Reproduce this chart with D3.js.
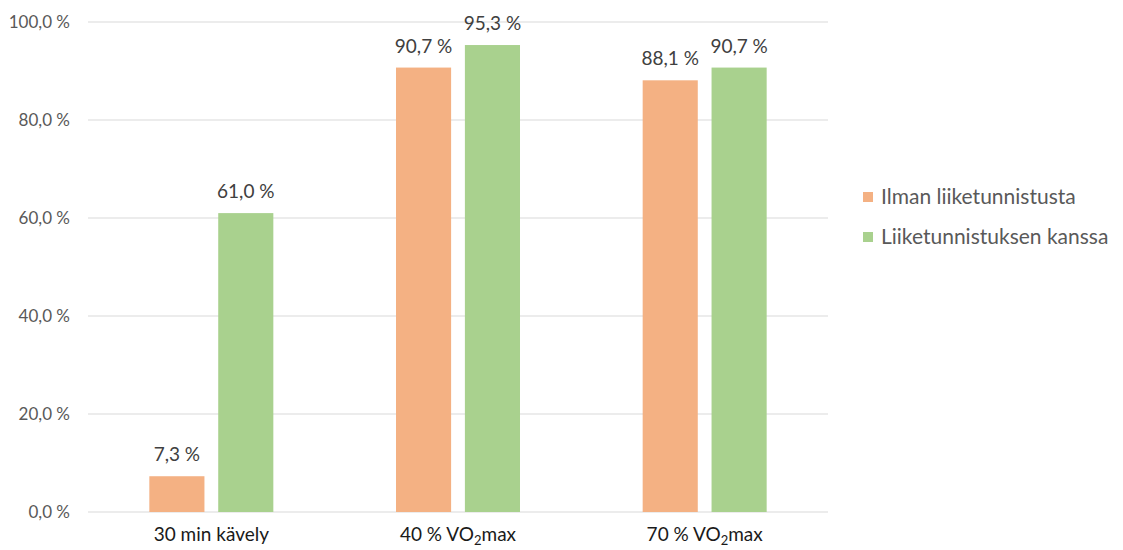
<!DOCTYPE html>
<html>
<head>
<meta charset="utf-8">
<script src="https://cdn.jsdelivr.net/npm/d3@7"></script>
<style>
  body { margin: 0; background: #fff; }
  svg text { font-family: Lato, "Open Sans", sans-serif; }
</style>
</head>
<body>
<div id="chart"></div>
<script>
// data
var categories = ["30 min kävely", "40 % VO2max", "70 % VO2max"];
var seriesNames = ["Ilman liiketunnistusta", "Liiketunnistuksen kanssa"];
var ilman = [7.3, 90.7, 88.1];
var kanssa = [61.0, 95.3, 90.7];
var yTicks = [0, 20, 40, 60, 80, 100];
var colors = ["#F4B183", "#A9D18E"];

var W = 1123, H = 550;
var margin = { top: 22, right: 295, bottom: 38, left: 88 };
var width = W - margin.left - margin.right;
var height = H - margin.top - margin.bottom;

var svg = d3.select("#chart")
  .append("svg")
  .attr("width", W)
  .attr("height", H)
  .append("g")
  .attr("transform", "translate(" + margin.left + "," + margin.top + ")");

var x0 = d3.scaleBand().domain(categories).range([0, width]).padding(0);
var groupW = 124;
var x1 = d3.scaleBand().domain(seriesNames)
  .range([(x0.bandwidth() - groupW) / 2, (x0.bandwidth() + groupW) / 2])
  .paddingInner(0.2).paddingOuter(0);
var y = d3.scaleLinear().domain([0, 100]).range([height, 0]);

var fmt = function (v) { return d3.format(".1f")(v).replace(".", ",") + " %"; };

// gridlines
svg.selectAll("line.grid")
  .data(yTicks)
  .enter()
  .append("line")
  .attr("class", "grid")
  .attr("x1", 0)
  .attr("x2", width)
  .attr("y1", (d) => y(d))
  .attr("y2", (d) => y(d))
  .attr("stroke", "#d9d9d9")
  .attr("stroke-width", 1);

// y labels
svg.selectAll("text.ytick")
  .data(yTicks)
  .enter()
  .append("text")
  .attr("class", "ytick")
  .attr("x", -18)
  .attr("y", (d) => y(d))
  .attr("dy", "0.35em")
  .attr("text-anchor", "end")
  .attr("fill", "#595959")
  .style("font-size", "17px")
  .text(fmt);

// bars
var rows = [];
for (var i = 0; i < categories.length; i++) {
  rows.push({ cat: categories[i], s: seriesNames[0], v: ilman[i], c: colors[0] });
  rows.push({ cat: categories[i], s: seriesNames[1], v: kanssa[i], c: colors[1] });
}

svg.selectAll("rect.bar")
  .data(rows)
  .enter()
  .append("rect")
  .attr("class", "bar")
  .attr("x", (d) => x0(d.cat) + x1(d.s))
  .attr("width", x1.bandwidth())
  .attr("y", (d) => y(d.v))
  .attr("height", (d) => height - y(d.v))
  .attr("fill", (d) => d.c);

// value labels
svg.selectAll("text.val")
  .data(rows)
  .enter()
  .append("text")
  .attr("class", "val")
  .attr("x", (d) => x0(d.cat) + x1(d.s) + x1.bandwidth() / 2)
  .attr("y", (d) => y(d.v) - 15)
  .attr("text-anchor", "middle")
  .attr("fill", "#404040")
  .style("font-size", "19px")
  .text((d) => fmt(d.v));

// category labels (VO2 with subscript)
var cl = svg.selectAll("text.cat")
  .data(categories)
  .enter()
  .append("text")
  .attr("class", "cat")
  .attr("x", (d) => x0(d) + x0.bandwidth() / 2)
  .attr("y", height + 29)
  .attr("text-anchor", "middle")
  .attr("fill", "#1a1a1a")
  .style("font-size", "19px");

cl.each(function (d) {
  var t = d3.select(this);
  var k = d.indexOf("VO2");
  if (k < 0) { t.text(d); return; }
  t.append("tspan").text(d.slice(0, k) + "VO");
  t.append("tspan").attr("dy", 4).style("font-size", "13px").text("2");
  t.append("tspan").attr("dy", -4).text(d.slice(k + 3));
});

// legend
var leg = svg.selectAll("g.legend")
  .data(seriesNames)
  .enter()
  .append("g")
  .attr("class", "legend")
  .attr("transform", (d, i) => "translate(" + (863 - margin.left) + "," + (192 - margin.top + i * 40) + ")");

leg.append("rect")
  .attr("width", 10)
  .attr("height", 10)
  .attr("fill", (d, i) => colors[i]);

leg.append("text")
  .attr("x", 18)
  .attr("y", 5)
  .attr("dy", "0.35em")
  .attr("fill", "#595959")
  .style("font-size", "21px")
  .text((d) => d);
</script>
</body>
</html>
